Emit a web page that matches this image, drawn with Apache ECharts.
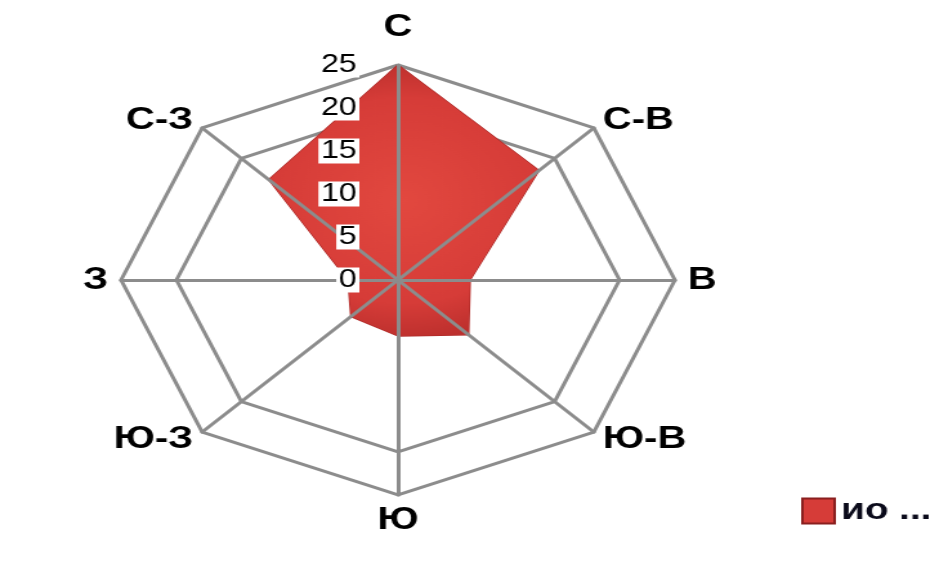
<!DOCTYPE html>
<html>
<head>
<meta charset="utf-8">
<script src="https://cdn.jsdelivr.net/npm/echarts@6/dist/echarts.min.js"></script>
<style>
  html, body { margin: 0; padding: 0; background: #fff; overflow: hidden; }
  #wrap { width: 933px; height: 561px; overflow: hidden; position: relative; }
  #chart { width: 724px; height: 561px; transform: scaleX(1.288); transform-origin: 0 0; }
</style>
</head>
<body>
<div id="wrap"><div id="chart"></div></div>
<script>
// Directions, listed counter-clockwise starting from the top (ECharts radar order)
const directions = ['С', 'С-З', 'З', 'Ю-З', 'Ю', 'Ю-В', 'В', 'С-В'];
const seriesName = 'ио ...';
const seriesValues = [25, 16.5, 4.5, 6, 6.5, 9, 6.5, 18];
const tickLabels = ['0', '5', '10', '15', '20', '25'];
const axisMin = 0;
const axisMax = 25;

const chart = echarts.init(document.getElementById('chart'), null, { renderer: 'canvas' });

function makeIndicators(withLabels) {
  return directions.map(function (d, i) {
    const ind = { name: d, min: axisMin, max: axisMax };
    if (withLabels && i === 0) {
      ind.axisLabel = { show: true };
      ind.nameGap = 22;
    }
    return ind;
  });
}

const gray = '#8c8c8c';
const none = 'rgba(0,0,0,0)';
const fontFamily = 'Liberation Sans, Arial, sans-serif';

const baseRadar = {
  center: [309, 280],
  radius: 215,
  startAngle: 90,
  shape: 'polygon',
  splitNumber: tickLabels.length - 1,
  splitArea: { show: false },
  axisTick: { show: false }
};

chart.setOption({
  backgroundColor: '#fff',
  animation: false,
  legend: {
    left: 617,
    top: 491,
    itemWidth: 25,
    itemHeight: 25,
    itemGap: 6,
    data: [{ name: seriesName, icon: 'rect' }],
    textStyle: { fontFamily: fontFamily, fontWeight: 'bold', fontSize: 30, color: '#0a0a1a' }
  },
  radar: [
    // background layer: rings only (under the filled area)
    Object.assign({}, baseRadar, {
      z: 0,
      indicator: makeIndicators(false),
      axisName: { show: false },
      axisLine: { show: false },
      axisLabel: { show: false },
      splitLine: { lineStyle: { color: [none, none, none, none, gray, gray], width: 3 } }
    }),
    // foreground layer: spokes, tick labels and direction names (above the filled area)
    Object.assign({}, baseRadar, {
      z: 5,
      indicator: makeIndicators(true),
      nameGap: 10,
      axisName: { color: '#000', fontFamily: fontFamily, fontWeight: 'bold', fontSize: 31 },
      axisLine: { lineStyle: { color: gray, width: 3 } },
      axisLabel: {
        show: false,
        margin: 30,
        color: '#000',
        fontFamily: fontFamily,
        fontSize: 25,
        backgroundColor: '#fff',
        padding: [0, 2],
        formatter: function (v) { return tickLabels[Math.round((v - axisMin) / 5)]; }
      },
      splitLine: { show: false }
    })
  ],
  series: [{
    type: 'radar',
    radarIndex: 0,
    name: seriesName,
    symbol: 'none',
    z: 2,
    lineStyle: { color: '#b02a28', width: 1.5 },
    itemStyle: { color: '#d63c38', borderColor: '#8a1f1f', borderType: 'dotted', borderWidth: 1.5 },
    areaStyle: {
      opacity: 1,
      color: {
        type: 'radial', x: 0.5, y: 0.5, r: 0.7,
        colorStops: [
          { offset: 0, color: '#e2483f' },
          { offset: 0.7, color: '#d63c38' },
          { offset: 1, color: '#b72d2b' }
        ]
      }
    },
    data: [{ value: seriesValues, name: seriesName }]
  }]
});
</script>
</body>
</html>
